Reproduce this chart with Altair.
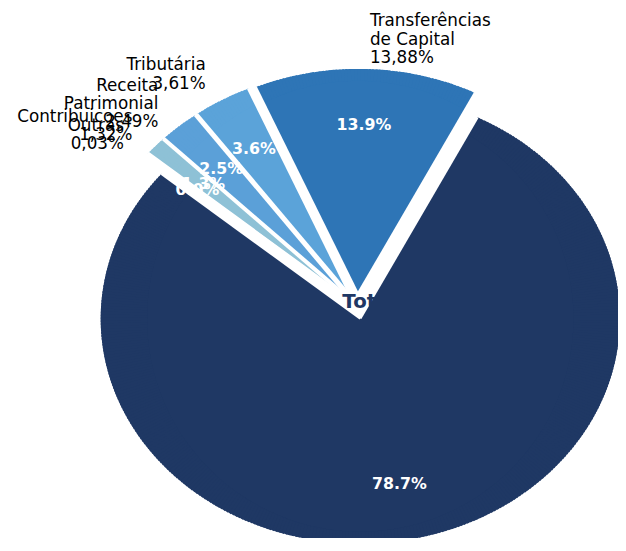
import math
import altair as alt
import pandas as pd

# ---- data ----
categories = ["Transferências Correntes", "Transferências de Capital", "Receita Tributária",
              "Receita Patrimonial", "Contribuicoes", "Outras"]
values = [78.67, 13.88, 3.61, 2.49, 1.32, 0.03]
label_names = [["Transferências", "Correntes"], ["Transferências", "de Capital"], ["Tributária"],
               ["Receita", "Patrimonial"], ["Contribuicoes"], ["Outras"]]
colors = ["#1f3864", "#2e75b6", "#5ba3d9", "#5ba0d8", "#8ec1d6", "#b4d6e6"]
center_text = "Total"

# ---- layout / style ----
W, H = 618, 530
CX, CY = 354.0, 298.8        # pie centre in plot pixels
RX, RY = 263.0, 228.0        # the reference pie is stretched horizontally
EXPLODE = 0.055
START = math.radians(140)    # counter-clockwise start angle
STEP = math.radians(0.75)
PCT = 0.75
LX, LY = 1.11, 1.13
LINE_H = 18.5
FONT = "DejaVu Sans"

labels = [names + [f"{v:.2f}".replace(".", ",") + "%"] for names, v in zip(label_names, values)]
df = pd.DataFrame({"category": categories, "value": values,
                   "order": list(range(len(values))), "label": labels})

color_scale = alt.Scale(domain=categories, range=colors)


def phi(s):
    """screen angle (clockwise from 12 o'clock) of data angle s on the stretched ellipse"""
    base = f"atan2({RY}*sin({s}), {RX}*cos({s}))"
    return f"PI/2 - (({s}) + atan2(sin({base} - ({s})), cos({base} - ({s}))))"


base = (
    alt.Chart(df)
    .transform_window(cum="sum(value)", sort=[alt.SortField("order")], frame=[None, 0])
    .transform_joinaggregate(total="sum(value)")
    .transform_calculate(
        a0=f"{START} + 2*PI*(datum.cum - datum.value)/datum.total",
        a1=f"{START} + 2*PI*datum.cum/datum.total",
    )
    .transform_calculate(mid="(datum.a0 + datum.a1)/2")
    .transform_calculate(
        cx=f"{CX} + {RX}*{EXPLODE}*cos(datum.mid)",
        cy=f"{CY} - {RY}*{EXPLODE}*sin(datum.mid)",
    )
)

# solid core of every slice (inside the ellipse's smallest radius)
core = (
    base.transform_calculate(t0=phi("datum.a0"), t1=phi("datum.a1"))
    .mark_arc(strokeWidth=0)
    .encode(
        x=alt.X("cx:Q", scale=None),
        y=alt.Y("cy:Q", scale=None),
        theta=alt.Theta("t0:Q", scale=None, stack=None),
        theta2="t1:Q",
        radius=alt.value(RY - 2),
        color=alt.Color("category:N", scale=color_scale, legend=None),
    )
)

# outer rim: thin overlapping sub-arcs that follow the stretched ellipse
arcs = (
    base.transform_calculate(n=f"max(1, ceil((datum.a1 - datum.a0)/{STEP}))")
    .transform_calculate(steps="sequence(0, datum.n)")
    .transform_flatten(["steps"], as_=["k"])
    .transform_calculate(
        s0="datum.a0 + (datum.a1 - datum.a0)*datum.k/datum.n",
        s1="datum.a0 + (datum.a1 - datum.a0)*min(datum.k + 1.7, datum.n)/datum.n",
        sm="datum.a0 + (datum.a1 - datum.a0)*(datum.k + 0.5)/datum.n",
    )
    .transform_calculate(
        t0=phi("datum.s0"),
        t1=phi("datum.s1"),
        r=f"sqrt(pow({RX}*cos(datum.sm), 2) + pow({RY}*sin(datum.sm), 2))",
    )
    .mark_arc(strokeWidth=0)
    .encode(
        x=alt.X("cx:Q", scale=None),
        y=alt.Y("cy:Q", scale=None),
        theta=alt.Theta("t0:Q", scale=None, stack=None),
        theta2="t1:Q",
        radius=alt.Radius("r:Q", scale=None),
        radius2=alt.value(RY - 12),
        color=alt.Color("category:N", scale=color_scale, legend=None),
        order=alt.Order("k:Q"),
    )
)

edges = (
    base.transform_calculate(edges="[datum.a0, datum.a1]")
    .transform_flatten(["edges"], as_=["ea"])
    .transform_calculate(
        ex=f"datum.cx + {RX}*cos(datum.ea)",
        ey=f"datum.cy - {RY}*sin(datum.ea)",
    )
    .mark_rule(color="white", strokeWidth=2.5)
    .encode(x=alt.X("cx:Q", scale=None), y=alt.Y("cy:Q", scale=None), x2="ex:Q", y2="ey:Q")
)

inner = (
    base.transform_calculate(
        px=f"datum.cx + {PCT}*{RX}*cos(datum.mid)",
        py=f"datum.cy - {PCT}*{RY}*sin(datum.mid)",
        pct="format(datum.value, '.1f') + '%'",
    )
    .mark_text(color="white", fontWeight="bold", fontSize=16, font=FONT,
               align="center", baseline="middle")
    .encode(x=alt.X("px:Q", scale=None), y=alt.Y("py:Q", scale=None), text="pct:N")
)

outer_base = base.transform_calculate(
    lx=f"datum.cx + {LX}*{RX}*cos(datum.mid)",
    ly=f"datum.cy - {LY}*{RY}*sin(datum.mid) - (length(datum.label) - 1)*{LINE_H}/2",
    side="cos(datum.mid) >= 0 ? 'L' : 'R'",
)
outer_left = (
    outer_base.transform_filter("datum.side == 'L'")
    .mark_text(color="black", fontSize=17, font=FONT, align="left",
               baseline="middle", lineHeight=LINE_H, dx=3)
    .encode(x=alt.X("lx:Q", scale=None), y=alt.Y("ly:Q", scale=None), text="label:N")
)
outer_right = (
    outer_base.transform_filter("datum.side == 'R'")
    .mark_text(color="black", fontSize=17, font=FONT, align="right",
               baseline="middle", lineHeight=LINE_H, dx=-2)
    .encode(x=alt.X("lx:Q", scale=None), y=alt.Y("ly:Q", scale=None), text="label:N")
)

total = (
    alt.Chart(pd.DataFrame({"t": [center_text]}))
    .mark_text(color=colors[0], fontWeight="bold", fontSize=20, font=FONT,
               align="center", baseline="middle")
    .encode(x=alt.value(CX + 12), y=alt.value(CY - 4), text="t:N")
)

chart = (
    alt.layer(core, arcs, edges, inner, outer_left, outer_right, total)
    .properties(width=W, height=H, padding=0, autosize="none", background="white")
    .configure_view(stroke=None)
)

chart.save("out.html", embed_options={"renderer": "svg", "actions": False})
